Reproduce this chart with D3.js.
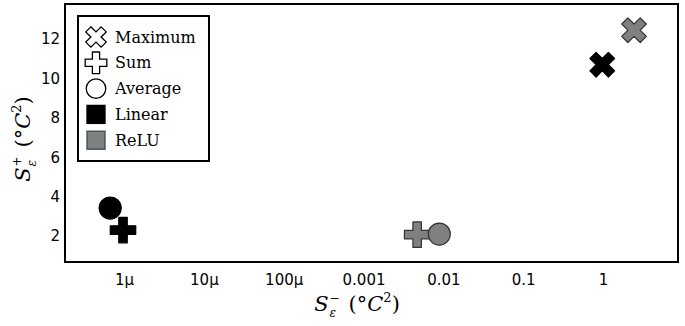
<!DOCTYPE html>
<html>
<head>
<meta charset="utf-8">
<script src="https://cdn.jsdelivr.net/npm/d3@7"></script>
<style>
  body { margin: 0; background: #fff; }
  svg { display: block; }
</style>
</head>
<body>
<svg id="chart"></svg>
<script>
// data
var aggregations = ["Maximum", "Sum", "Average"];
var activations = ["Linear", "ReLU"];
var sMinus = {
  Linear: [0.98, 0.97e-6, 0.67e-6],
  ReLU:   [2.45, 0.0047, 0.0089]
};
var sPlus = {
  Linear: [10.7, 2.3, 3.42],
  ReLU:   [12.45, 2.07, 2.1]
};
var xTicks = [1e-6, 1e-5, 1e-4, 1e-3, 1e-2, 0.1, 1];
var xTickLabels = ["1μ", "10μ", "100μ", "0.001", "0.01", "0.1", "1"];
var yTicks = [2, 4, 6, 8, 10, 12];

var width = 685, height = 326;
var margin = { left: 65, right: 7, top: 4, bottom: 64 };
var svg = d3.select("#chart").attr("width", width).attr("height", height);

var x = d3.scaleLog()
          .domain([Math.pow(10, -6.74), Math.pow(10, 0.94)])
          .range([margin.left, width - margin.right]);
var y = d3.scaleLinear()
          .domain([0.68, 13.78])
          .range([height - margin.bottom, margin.top]);

var fills = { Linear: "#000", ReLU: "#808080" };
var strokes = { Linear: "#000", ReLU: "#333" };

function shapePath(name) {
  if (name == "Average") return d3.symbol().type(d3.symbolCircle).size(380)();
  return d3.symbol().type(d3.symbolCross).size(name == "Sum" ? 360 : 380)();
}
function shapeRot(name) { return name == "Maximum" ? 45 : 0; }

// frame
svg.append("rect")
   .attr("x", margin.left).attr("y", margin.top)
   .attr("width", width - margin.left - margin.right)
   .attr("height", height - margin.top - margin.bottom)
   .attr("fill", "none").attr("stroke", "#000").attr("stroke-width", 2);

// axes, no tick marks
var xAxis = d3.axisBottom(x).tickValues(xTicks).tickSize(0)
              .tickFormat(function(d, i) { return xTickLabels[i]; });
var gx = svg.append("g")
   .attr("transform", "translate(0," + (height - margin.bottom) + ")")
   .call(xAxis);
gx.select(".domain").remove();
gx.selectAll("text").attr("dy", "1.35em")
  .attr("font-family", "DejaVu Sans").attr("font-size", 15).attr("fill", "#000");

var yAxis = d3.axisLeft(y).tickValues(yTicks).tickSize(0);
var gy = svg.append("g")
   .attr("transform", "translate(" + margin.left + ",0)")
   .call(yAxis);
gy.select(".domain").remove();
gy.selectAll("text").attr("x", -5)
  .attr("font-family", "DejaVu Sans").attr("font-size", 15).attr("fill", "#000");

// markers
activations.forEach(function(act) {
  aggregations.forEach(function(agg, i) {
    svg.append("path")
       .attr("d", shapePath(agg))
       .attr("transform", "translate(" + x(sMinus[act][i]) + "," + y(sPlus[act][i]) + ") rotate(" + shapeRot(agg) + ")")
       .attr("fill", fills[act])
       .attr("stroke", strokes[act])
       .attr("stroke-width", 1.2)
       .attr("stroke-linejoin", "round");
  });
});

// legend
var legend = svg.append("g");
legend.append("rect")
      .attr("x", 78).attr("y", 16).attr("width", 131).attr("height", 145)
      .attr("fill", "#fff").attr("stroke", "#000").attr("stroke-width", 2);
var items = aggregations.map(function(a) { return { name: a, kind: "shape" }; })
  .concat(activations.map(function(a) { return { name: a, kind: "color" }; }));
items.forEach(function(d, i) {
  var cy = 37 + i * 25.8;
  if (d.kind == "shape") {
    legend.append("path")
          .attr("d", d3.symbol().type(d.name == "Average" ? d3.symbolCircle : d3.symbolCross)
                      .size(d.name == "Average" ? 300 : 260)())
          .attr("transform", "translate(96," + cy + ") rotate(" + shapeRot(d.name) + ")")
          .attr("fill", "#fff").attr("stroke", "#000").attr("stroke-width", 1.3);
  } else {
    legend.append("rect")
          .attr("x", 87).attr("y", cy - 9).attr("width", 18).attr("height", 18)
          .attr("fill", fills[d.name])
          .attr("stroke", d.name == "ReLU" ? "#3b4a55" : "#000").attr("stroke-width", 1.3);
  }
  legend.append("text")
        .attr("x", 115).attr("y", cy + 5.5)
        .attr("font-family", "DejaVu Serif").attr("font-size", 16)
        .text(d.name);
});

// axis titles: S with stacked sub/superscript, then (°C²)
function mathLabel(g, sign) {
  var font = "DejaVu Serif";
  var s = g.append("text").attr("font-family", font).attr("font-size", 21)
           .attr("font-style", "italic").text("S");
  var sw = s.node().getComputedTextLength();
  g.append("text").attr("x", sw + 1).attr("y", 6)
   .attr("font-family", font).attr("font-size", 12).attr("font-style", "italic").text("ε");
  g.append("text").attr("x", sw + 1).attr("y", -9)
   .attr("font-family", font).attr("font-size", 12).text(sign);
  var rest = g.append("text").attr("x", sw + 20)
              .attr("font-family", font).attr("font-size", 21);
  rest.append("tspan").text("(°");
  rest.append("tspan").attr("font-style", "italic").text("C");
  rest.append("tspan").attr("font-size", 13).attr("dy", -9).text("2");
  rest.append("tspan").attr("dy", 9).text(")");
  var total = sw + 20 + rest.node().getComputedTextLength();
  return total;
}
var xl = svg.append("g");
var xw = mathLabel(xl, "−");
xl.attr("transform", "translate(" + (357 - xw / 2) + ",311)");
var yl = svg.append("g");
var yw = mathLabel(yl, "+");
yl.attr("transform", "translate(30," + (139 + yw / 2) + ") rotate(-90)");
</script>
</body>
</html>
